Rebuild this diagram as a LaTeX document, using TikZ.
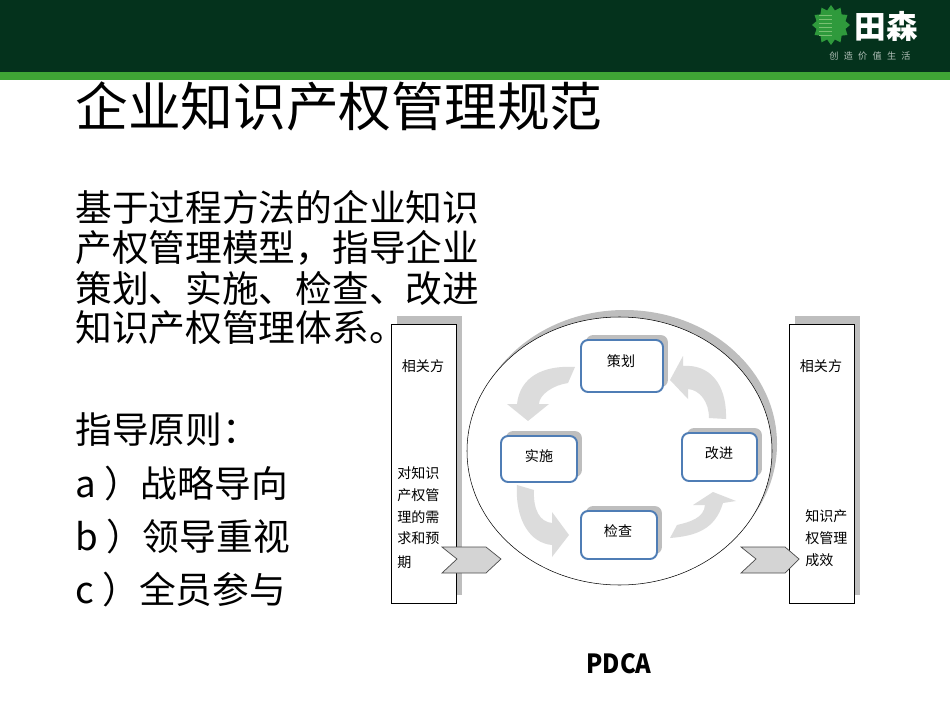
\documentclass[tikz,border=0pt]{standalone}
\usepackage{fontspec}
\setmainfont{Noto Sans CJK SC}
\newfontfamily\pdcafont[FakeStretch=0.9]{Noto Sans CJK SC}
\usetikzlibrary{shadows}
\definecolor{headgreen}{HTML}{04321C}
\definecolor{stripegreen}{HTML}{3FA535}
\definecolor{stargreen}{HTML}{2F9A3C}
\definecolor{boxblue}{HTML}{4F7DB5}
\definecolor{shadegray}{HTML}{BEBEBE}
\definecolor{flowgray}{HTML}{DCDCDC}
\definecolor{tabgray}{HTML}{D4D4D4}
\tikzset{
  titletext/.style={anchor=west,inner sep=0pt,font=\fontsize{30}{32}\selectfont},
  bodytext/.style={anchor=west,inner sep=0pt,font=\fontsize{20.9}{24}\selectfont},
  smalltext/.style={inner sep=0pt,font=\fontsize{8}{10}\selectfont},
  sidebox/.style={draw=black,fill=white,line width=0.5pt,minimum width=1.3cm,minimum height=5.58cm,
    copy shadow={shadow xshift=3.4pt,shadow yshift=4.5pt,fill=shadegray,draw=none}},
  stagebox/.style={draw=boxblue,fill=white,line width=1.1pt,rounded corners=4pt,inner sep=0pt,
    font=\fontsize{8}{10}\selectfont,
    copy shadow={shadow xshift=2.8pt,shadow yshift=2.8pt,fill=shadegray,draw=none}},
  flowarrow/.style={fill=flowgray,draw=none},
  tabarrow/.style={fill=tabgray,draw=black!70,line width=0.4pt}
}
\begin{document}
\begin{tikzpicture}[x=0.02cm,y=-0.02cm]
\useasboundingbox (0,0) rectangle (950,713);
\fill [headgreen] (0,0) rectangle (950,72);
\fill [stripegreen] (0,72) rectangle (950,80);
\fill [stargreen] (831,5)
  \foreach \a in {1,...,23} {-- ({831+(mod(\a,2)==1 ? 15 : 19)*sin(\a*15)}, {25-(mod(\a,2)==1 ? 15 : 20)*cos(\a*15)})} -- cycle;
\foreach \y in {15,19,...,35} \draw [stripegreen!70!white,line width=0.4pt] (819,\y) -- (832,\y);
\node [inner sep=0pt,text=white,font=\bfseries\fontsize{18}{19}\selectfont] (logoname) at (886,26) {田森};
\node [inner sep=0pt,text=white!70!headgreen,font=\fontsize{5.2}{6}\selectfont] (logoline) at (870,56) {创\hspace{3pt}造\hspace{3pt}价\hspace{3pt}值\hspace{3pt}生\hspace{3pt}活};

\node [titletext] (title) at (75,106) {企业知识产权管理规范};
\node [bodytext] (line1) at (75,207) {基于过程方法的企业知识};
\node [bodytext] (line2) at (75,248) {产权管理模型，指导企业};
\node [bodytext] (line3) at (75,288) {策划、实施、检查、改进};
\node [bodytext] (line4) at (75,328) {知识产权管理体系。};
\node [bodytext] (rule0) at (75,430) {指导原则：};
\node [bodytext] (rule1) at (75,484) {a ）战略导向};
\node [bodytext] (rule2) at (75,537) {b ）领导重视};
\node [bodytext] (rule3) at (75,590) {c ）全员参与};

\node [sidebox] (leftbox) at (424,463.5) {};
\node [sidebox] (rightbox) at (821.5,463.5) {};
\fill [shadegray] (624.5,444) ellipse [x radius=152.5,y radius=134];
\draw [fill=white,line width=0.3pt] (619.5,451) ellipse [x radius=152.5,y radius=134];

\node [stagebox,minimum width=1.64cm,minimum height=1.04cm] (plan) at (622,366) {};
\node [stagebox,minimum width=1.52cm,minimum height=0.92cm] (act) at (539,459) {};
\node [stagebox,minimum width=1.5cm,minimum height=0.96cm] (improve) at (719.5,457) {};
\node [stagebox,minimum width=1.52cm,minimum height=0.96cm] (check) at (619,535) {};
\node [smalltext] (plantext) at (621,361) {策划};
\node [smalltext] (acttext) at (539,456) {实施};
\node [smalltext] (improvetext) at (719,453) {改进};
\node [smalltext] (checktext) at (618,531) {检查};

\fill [flowarrow] (575,367) .. controls (543,365) and (520,377) .. (517,404) -- (507,404) -- (528,421) -- (549,404) -- (539,404) .. controls (539,395) and (553,385) .. (568,383) -- cycle;
\fill [flowarrow] (683,356) -- (683,366) .. controls (708,364) and (727,382) .. (726,419) -- (709,418) .. controls (709,402) and (700,390) .. (688,389) -- (688,399) -- (670,380) -- cycle;
\fill [flowarrow] (517,485) -- (534,490) .. controls (533,510) and (540,522) .. (552,523) -- (552,512) -- (569,535) -- (552,557) -- (552,545) .. controls (530,543) and (515,520) .. (517,485) -- cycle;
\fill [flowarrow] (670,538) -- (677,525) .. controls (690,522) and (704,518) .. (705,505) -- (693,505) -- (713,492) -- (736,501) -- (723,503) .. controls (715,530) and (695,536) .. (670,538) -- cycle;

\draw [tabarrow] (442,547) -- (486,547) -- (501,559) -- (486,573) -- (442,573) -- (457,559) -- cycle;
\draw [tabarrow] (741,547) -- (785,547) -- (799,559) -- (785,573) -- (741,573) -- (756,559) -- cycle;

\node [smalltext] (lefthead) at (423,366) {相关方};
\node [smalltext] (righthead) at (821,366) {相关方};
\node [smalltext,anchor=west] (left1) at (397,473) {对知识};
\node [smalltext,anchor=west] (left2) at (397,495) {产权管};
\node [smalltext,anchor=west] (left3) at (397,517) {理的需};
\node [smalltext,anchor=west] (left4) at (397,538) {求和预};
\node [smalltext,anchor=west] (left5) at (397,562) {期};
\node [smalltext,anchor=west] (right1) at (805,516) {知识产};
\node [smalltext,anchor=west] (right2) at (805,538) {权管理};
\node [smalltext,anchor=west] (right3) at (805,560) {成效};
\node [inner sep=0pt,font=\pdcafont\bfseries\fontsize{15}{16}\selectfont] (pdca) at (619,664) {PDCA};
\end{tikzpicture}
\end{document}
